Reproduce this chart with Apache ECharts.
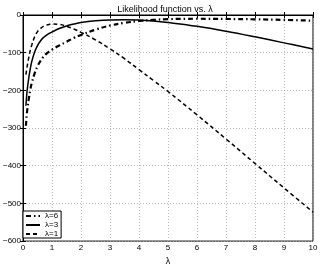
<!DOCTYPE html>
<html>
<head>
<meta charset="utf-8">
<script src="https://cdn.jsdelivr.net/npm/echarts@6/dist/echarts.min.js"></script>
<style>
  html, body { margin: 0; padding: 0; background: #fff; }
  #chart { width: 330px; height: 271px; }
</style>
</head>
<body>
<div id="chart"></div>
<script>
// lambda values where the curves were read
var lambdas = [0.1, 0.125, 0.15, 0.2, 0.25, 0.3, 0.4, 0.5, 0.6, 0.7, 0.8, 0.9, 1, 1.25, 1.5, 1.75, 2, 2.5, 3, 3.5, 4, 4.5, 5, 6, 7, 8, 9, 10];

// log likelihood for each true lambda
var like6 = [-294, -268, -250, -222, -199, -181, -155, -136, -122, -111, -103, -97, -92, -81, -71, -61, -53, -39, -28, -21, -16, -13, -11, -10, -10.5, -11.5, -13, -15];
var like3 = [-241, -215, -195, -166, -143, -124, -98, -81, -69, -60, -54, -49, -45, -36, -29, -24, -20, -15.5, -13, -12.5, -13.5, -16, -20, -30, -43, -58, -74, -90];
var like1 = [-158, -145, -133, -112, -94, -80, -58, -44, -36, -30, -27, -25, -24, -25, -30, -37, -46, -66, -90, -116, -145, -174, -203, -265, -329, -394, -459, -523];

var seriesNames = ['\u03bb=6', '\u03bb=3', '\u03bb=1'];

function pairs(ys) {
  var out = [];
  for (var i = 0; i < lambdas.length; i++) {
    out.push([lambdas[i], ys[i]]);
  }
  return out;
}

var font = 'Liberation Sans, Arial, sans-serif';
var gridLine = { show: true, lineStyle: { color: '#aaa', type: [1, 2], width: 0.8 } };
var tick = { show: true, inside: true, length: 3, lineStyle: { color: '#000' } };

var myChart = echarts.init(document.getElementById('chart'));

var option = {
  animation: false,
  backgroundColor: '#fff',
  title: {
    text: 'Likelihood function vs. \u03bb',
    left: 'center',
    top: 0,
    textStyle: { fontFamily: font, fontSize: 9, fontWeight: 'normal', color: '#000' }
  },
  grid: {
    left: 22, right: 17, top: 15, bottom: 28,
    show: true, borderColor: '#000', borderWidth: 1
  },
  legend: {
    show: true,
    orient: 'vertical',
    left: 23, top: 211,
    itemWidth: 14, itemHeight: 8, itemGap: 1,
    padding: [1, 3, 0, 2],
    backgroundColor: '#fff',
    borderColor: '#000', borderWidth: 1,
    itemStyle: { opacity: 0 },
    textStyle: { fontFamily: font, fontSize: 8, color: '#000' },
    data: seriesNames
  },
  xAxis: [{
    type: 'value', min: 0, max: 10, interval: 1,
    name: '\u03bb', nameLocation: 'middle', nameGap: 14,
    nameTextStyle: { fontFamily: font, fontSize: 9, color: '#000' },
    axisLine: { lineStyle: { color: '#000' } },
    axisTick: tick,
    axisLabel: { fontFamily: font, fontSize: 8, color: '#000', margin: 3 },
    splitLine: gridLine
  }, {
    type: 'value', min: 0, max: 10, interval: 1, position: 'top',
    axisLine: { lineStyle: { color: '#000' } },
    axisTick: tick,
    axisLabel: { show: false }, splitLine: { show: false }
  }],
  yAxis: [{
    type: 'value', min: -600, max: 0, interval: 100,
    axisLine: { show: true, lineStyle: { color: '#000' } },
    axisTick: tick,
    axisLabel: {
      fontFamily: font, fontSize: 8, color: '#000', margin: 2,
      formatter: function(v) { return String(v).replace('-', '\u2212'); }
    },
    splitLine: gridLine
  }, {
    type: 'value', min: -600, max: 0, interval: 100, position: 'right',
    axisLine: { show: true, lineStyle: { color: '#000' } },
    axisTick: tick,
    axisLabel: { show: false }, splitLine: { show: false }
  }],
  series: [{
    name: seriesNames[0], type: 'line', smooth: 0.4, symbol: 'none',
    data: pairs(like6),
    lineStyle: { color: '#000', width: 2.2, type: [5, 3, 1.5, 3] },
    itemStyle: { color: '#000' }
  }, {
    name: seriesNames[1], type: 'line', smooth: 0.4, symbol: 'none',
    data: pairs(like3),
    lineStyle: { color: '#000', width: 1.5, type: 'solid' },
    itemStyle: { color: '#000' }
  }, {
    name: seriesNames[2], type: 'line', smooth: 0.4, symbol: 'none',
    data: pairs(like1),
    lineStyle: { color: '#000', width: 1.5, type: [4, 3] },
    itemStyle: { color: '#000' }
  }]
};

myChart.setOption(option);
</script>
</body>
</html>
